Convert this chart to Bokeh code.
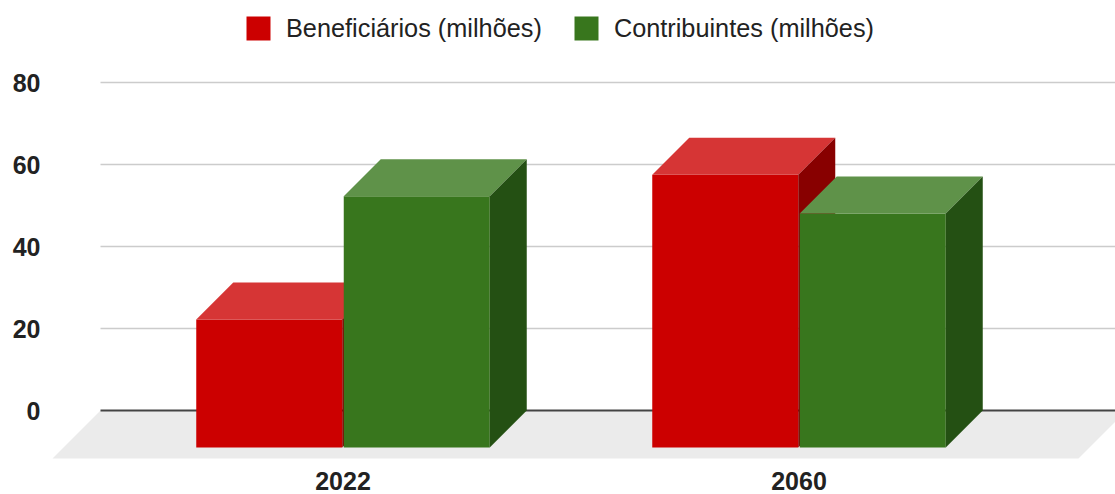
from bokeh.plotting import figure
from bokeh.models import FixedTicker, Legend, LegendItem, Range1d
from bokeh.embed import file_html
from bokeh.resources import INLINE

# ---------------- data ----------------
categories = ["2022", "2060"]
beneficiarios = [31.2, 66.5]
contribuintes = [61.3, 57.1]
y_ticks = [0, 20, 40, 60, 80]
series_labels = ["Beneficiários (milhões)", "Contribuintes (milhões)"]

# ---------------- styling / geometry ----------------
W, H = 1115, 494
LEFT_BORDER = 49
BOTTOM_PANEL = 29
PX_X = 456.0            # pixels per category step
PX_Y = 4.1              # pixels per value unit
C0 = 342.5              # x pixel of first category centre
ZERO = 410              # y pixel of value 0 (back plane)
BAR_W = 146 / PX_X
GAP = 1.5 / PX_X
DX = 37 / PX_X          # bar depth (x)
DY = 37 / PX_Y          # bar depth (y)
FX = 48 / PX_X          # floor depth (x)
FY = 48 / PX_Y          # floor depth (y)

frame_h = H - BOTTOM_PANEL
x_start = (LEFT_BORDER - C0) / PX_X
x_end = (W - C0) / PX_X
y_end = ZERO / PX_Y
y_start = y_end - frame_h / PX_Y
back_left = (100 - C0) / PX_X
back_right = back_left + 1026 / PX_X

FONT = "Liberation Sans"
colors = {
    "front": ["#cc0000", "#38761d"],
    "top": ["#d63535", "#5f9249"],
    "side": ["#880000", "#245013"],
}

p = figure(width=W, height=H, output_backend="svg", toolbar_location=None,
           x_range=Range1d(x_start, x_end), y_range=Range1d(y_start, y_end),
           min_border_left=LEFT_BORDER, min_border_right=0, min_border_top=0,
           min_border_bottom=BOTTOM_PANEL, outline_line_color=None)
p.grid.visible = False

# floor
p.patch([back_left, back_right, back_right - FX, back_left - FX],
        [0, 0, -FY, -FY], fill_color="#ebebeb", line_color=None)

# gridlines (back plane)
grid_vals = [v for v in y_ticks if v != 0]
p.segment(x0=[back_left] * len(grid_vals), x1=[x_end + 1] * len(grid_vals),
          y0=grid_vals, y1=grid_vals, line_color="#cccccc", line_width=1.5)
p.segment(x0=[back_left], x1=[x_end + 1], y0=[0], y1=[0],
          line_color="#444444", line_width=2)

legend_items = []
for s, vals in enumerate([beneficiarios, contribuintes]):
    xs = list(range(len(categories)))
    if s == 0:
        xl = [c - BAR_W - GAP / 2 for c in xs]
    else:
        xl = [c + GAP / 2 for c in xs]
    xr = [a + BAR_W for a in xl]
    front = p.quad(left=xl, right=xr, bottom=[-DY] * len(vals),
                   top=[v - DY for v in vals],
                   fill_color=colors["front"][s], line_color=None)
    p.patches(xs=[[a, b, b + DX, a + DX] for a, b in zip(xl, xr)],
              ys=[[v - DY, v - DY, v, v] for v in vals],
              fill_color=colors["top"][s], line_color=None)
    p.patches(xs=[[b, b + DX, b + DX, b] for b in xr],
              ys=[[-DY, 0, v, v - DY] for v in vals],
              fill_color=colors["side"][s], line_color=None)
    legend_items.append(LegendItem(label=series_labels[s], renderers=[front]))

# axes
p.yaxis.ticker = FixedTicker(ticks=y_ticks)
p.yaxis.axis_line_color = None
p.yaxis.major_tick_line_color = None
p.yaxis.minor_tick_line_color = None
p.yaxis.major_tick_out = 0
p.yaxis.major_label_standoff = 9
p.yaxis.major_label_text_font = FONT
p.yaxis.major_label_text_font_style = "bold"
p.yaxis.major_label_text_font_size = "25px"
p.yaxis.major_label_text_color = "#222222"

p.xaxis.ticker = FixedTicker(ticks=list(range(len(categories))))
p.xaxis.major_label_overrides = {i: c for i, c in enumerate(categories)}
p.xaxis.axis_line_color = None
p.xaxis.major_tick_line_color = None
p.xaxis.minor_tick_line_color = None
p.xaxis.major_tick_out = 0
p.xaxis.major_label_standoff = 6
p.xaxis.major_label_text_font = FONT
p.xaxis.major_label_text_font_style = "bold"
p.xaxis.major_label_text_font_size = "25px"
p.xaxis.major_label_text_color = "#222222"

legend = Legend(items=legend_items, orientation="horizontal",
                location=(194, frame_h - 43),
                glyph_width=30, glyph_height=30, label_standoff=13, spacing=29,
                padding=0, margin=0, border_line_color=None,
                background_fill_alpha=0,
                label_text_font=FONT, label_text_font_size="25.3px",
                label_text_color="#222222")
p.add_layout(legend)

open("out.html", "w").write(file_html(p, INLINE))
